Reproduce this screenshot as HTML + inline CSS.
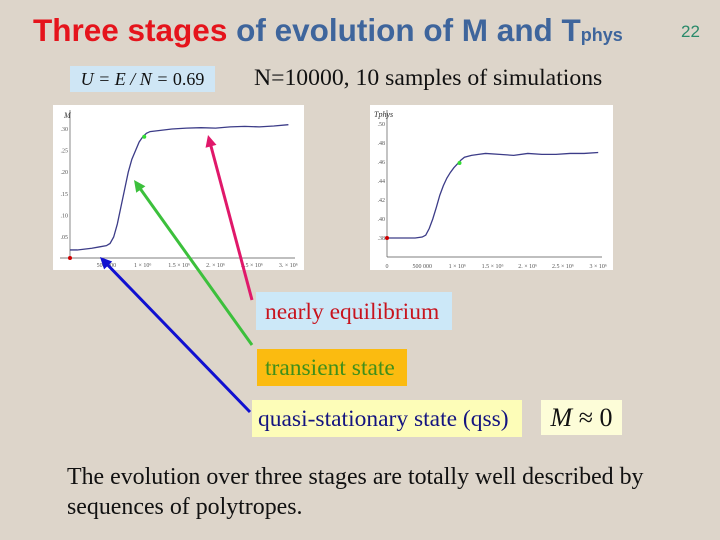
<!DOCTYPE html>
<html><head><meta charset="utf-8"><style>
body{margin:0;width:720px;height:540px;overflow:hidden;background:#ddd5ca;font-family:"Liberation Serif",serif;position:relative}
.a{position:absolute;white-space:nowrap}
</style></head><body>
<div class="a" style="left:33px;top:12px;font:bold 31.5px 'Liberation Sans',sans-serif;color:#3e659c"><span style="color:#e5141c">Three stages</span> of evolution of M and T<span style="font-size:18px">phys</span></div>
<div class="a" style="left:681px;top:22px;font:17px 'Liberation Sans',sans-serif;color:#2a8a6a">22</div>
<div class="a" style="left:70px;top:66px;width:145px;height:26px;background:#cfe6f5;font:italic 18px 'Liberation Serif',serif;line-height:26px;text-align:center;color:#111">U = E / N = <span style="font-style:normal">0.69</span></div>
<div class="a" style="left:254px;top:65px;font-size:23.7px;color:#111">N=10000, 10 samples of simulations</div>

<svg class="a" style="left:0;top:0" width="720" height="540">
<rect x="53" y="105" width="251" height="165" fill="#fff"/>
<rect x="370" y="105" width="243" height="165" fill="#fff"/>
<g id="g1"></g><g id="g2"></g><g id="arr"></g>
</svg>

<div class="a" style="left:256px;top:292px;width:196px;height:38px;background:#cce8f8;color:#c8141e;font-size:23.5px;line-height:40px;padding-left:9px;box-sizing:border-box">nearly equilibrium</div>
<div class="a" style="left:257px;top:349px;width:150px;height:37px;background:#fbbb10;color:#3f8f1a;font-size:23.5px;line-height:39px;padding-left:8px;box-sizing:border-box">transient state</div>
<div class="a" style="left:252px;top:400px;width:270px;height:37px;background:#fdfdb8;color:#141480;font-size:23.5px;line-height:39px;padding-left:6px;box-sizing:border-box">quasi-stationary state (qss)</div>
<div class="a" style="left:541px;top:400px;width:81px;height:35px;background:#fdfdd8;color:#111;font-size:26px;line-height:35px;text-align:center"><i>M</i> ≈ 0</div>
<div class="a" style="left:67px;top:462px;font-size:23.9px;line-height:30px;color:#111">The evolution over three stages are totally well described by<br>sequences of polytropes.</div>

<script>
const mTimes=[0,1,2,3,4,5,5.5,6,6.5,7,7.5,8,8.5,9,9.5,10,10.5,11,12,13,14,16,18,20,22,24,26,28,30];
const mValues=[0.02,0.02,0.022,0.024,0.027,0.03,0.035,0.05,0.08,0.12,0.16,0.2,0.23,0.25,0.27,0.282,0.29,0.294,0.296,0.298,0.3,0.302,0.303,0.302,0.305,0.306,0.305,0.307,0.31];
const tTimes=[0,2,4,5,5.5,6,6.5,7,7.5,8,8.5,9,9.5,10,10.5,11,12,13,14,16,18,20,22,24,26,28,30];
const tValues=[0.38,0.38,0.38,0.381,0.383,0.39,0.4,0.412,0.425,0.435,0.443,0.449,0.454,0.458,0.462,0.465,0.467,0.468,0.469,0.468,0.467,0.469,0.468,0.468,0.469,0.469,0.47];
const mTicks=[0.05,0.10,0.15,0.20,0.25,0.30];
const tTicks=[0.38,0.40,0.42,0.44,0.46,0.48,0.50];
const xTickLabels1=["500 000","1 × 10⁶","1.5 × 10⁶","2. × 10⁶","2.5 × 10⁶","3. × 10⁶"];
const xTickLabels2=["0","500 000","1 × 10⁶","1.5 × 10⁶","2. × 10⁶","2.5 × 10⁶","3 × 10⁶"];
const NS="http://www.w3.org/2000/svg";
function mk(p,t,a,txt){const e=document.createElementNS(NS,t);for(const k in a)e.setAttribute(k,a[k]);if(txt!==undefined)e.textContent=txt;p.appendChild(e);return e;}
const g1=document.getElementById('g1');
const x1=t=>70+t*7.28, y1=v=>258.6-v*432;
let e=mk(g1,'line',{x1:70,y1:110,x2:70,y2:258,stroke:'#555','stroke-width':0.7});

e=mk(g1,'line',{x1:60,y1:258,x2:295,y2:258,stroke:'#555','stroke-width':0.7});

mTicks.forEach(v=>{e=mk(g1,'text',{x:68,y:y1(v)+2,'font-size':6,'text-anchor':'end',fill:'#555'},v.toFixed(2).slice(1));
});
xTickLabels1.forEach((l,i)=>{e=mk(g1,'text',{x:x1((i+1)*5),y:267,'font-size':6,'text-anchor':'middle',fill:'#555'},l);
});
e=mk(g1,'text',{x:64,y:118,'font-size':8,'font-style':'italic',fill:'#333'},'M');

e=mk(g1,'polyline',{points:mTimes.map((t,i)=>x1(t)+','+y1(mValues[i])).join(' '),fill:'none',stroke:'#3c3c88','stroke-width':1.3});

e=mk(g1,'circle',{cx:x1(0),cy:258,r:2,fill:'#c00'});
e=mk(g1,'circle',{cx:x1(10.2),cy:y1(0.282),r:2,fill:'#3d3'});
const g2=document.getElementById('g2');
const x2=t=>387+t*7.04, y2=v=>238-(v-0.38)*950;
e=mk(g2,'line',{x1:387,y1:110,x2:387,y2:257,stroke:'#555','stroke-width':0.7});

e=mk(g2,'line',{x1:387,y1:257,x2:602,y2:257,stroke:'#555','stroke-width':0.7});

tTicks.forEach(v=>{e=mk(g2,'text',{x:385,y:y2(v)+2,'font-size':6,'text-anchor':'end',fill:'#555'},v.toFixed(2).slice(1));
});
xTickLabels2.forEach((l,i)=>{e=mk(g2,'text',{x:x2(i*5),y:268,'font-size':6,'text-anchor':'middle',fill:'#555'},l);
});
e=mk(g2,'text',{x:374,y:117,'font-size':8,'font-style':'italic',fill:'#333'},'Tphys');

e=mk(g2,'polyline',{points:tTimes.map((t,i)=>x2(t)+','+y2(tValues[i])).join(' '),fill:'none',stroke:'#3c3c88','stroke-width':1.3});

e=mk(g2,'circle',{cx:x2(0),cy:y2(0.38),r:2,fill:'#c00'});
e=mk(g2,'circle',{cx:x2(10.3),cy:y2(0.459),r:2,fill:'#3d3'});
const ga=document.getElementById('arr');
[['#e0186a',252,300,208,135,'arrow-equilibrium'],['#3cc03c',252,345,134,180,'arrow-transient'],['#1010d0',250,412,100,257,'arrow-qss']].forEach(a=>{
const [c,xa,ya,xb,yb,n]=a;const ang=Math.atan2(yb-ya,xb-xa),L=13,w=0.45;
e=mk(ga,'line',{x1:xa,y1:ya,x2:xb-Math.cos(ang)*8,y2:yb-Math.sin(ang)*8,stroke:c,'stroke-width':3});

const p=[[xb,yb],[xb-L*Math.cos(ang-w),yb-L*Math.sin(ang-w)],[xb-L*Math.cos(ang+w),yb-L*Math.sin(ang+w)]];
e=mk(ga,'polygon',{points:p.map(q=>q.join(',')).join(' '),fill:c});
});
</script>
</body></html>
